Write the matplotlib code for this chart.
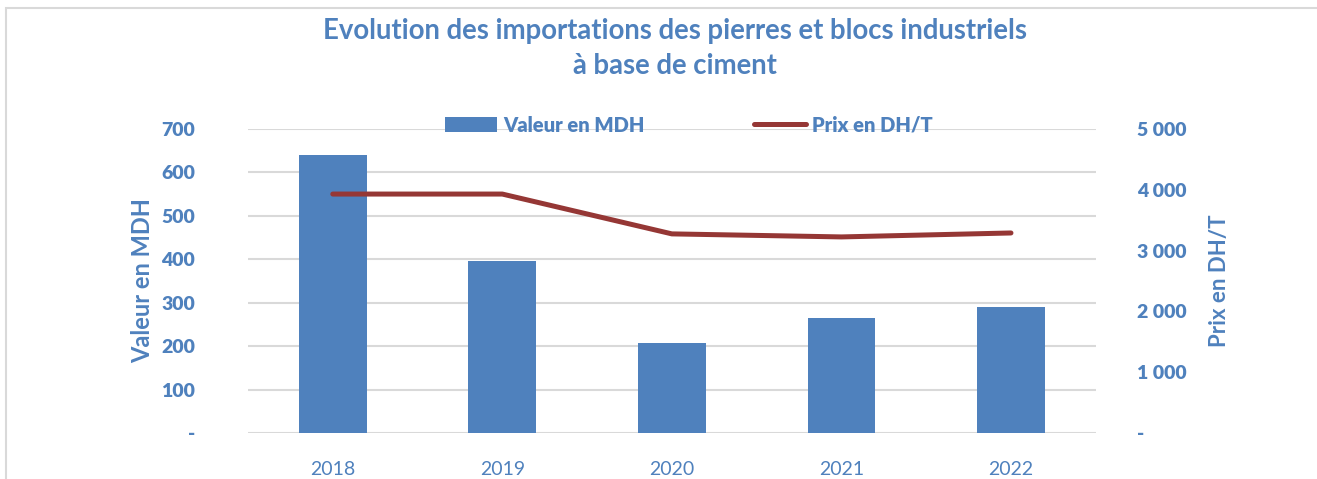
import matplotlib.pyplot as plt
from matplotlib.patches import Rectangle

years = ["2018", "2019", "2020", "2021", "2022"]
valeur_mdh = [640, 396, 207, 265, 290]
prix_dh_t = [3930, 3930, 3275, 3225, 3290]
left_ticks = [0, 100, 200, 300, 400, 500, 600, 700]
right_ticks = [0, 1000, 2000, 3000, 4000, 5000]

BLUE = "#4F81BD"
RED = "#953735"
GRID = "#D9D9D9"

plt.rcParams["font.family"] = ["Lato", "DejaVu Sans"]

fig = plt.figure(figsize=(13.17, 4.79), dpi=100)
ax = fig.add_axes([0.1883, 0.0960, 0.6437, 0.6347])
ax2 = ax.twinx()

x = list(range(len(years)))
bars = ax.bar(x, valeur_mdh, width=0.4, color=BLUE, zorder=3)
line, = ax2.plot(x, prix_dh_t, color=RED, lw=3.6, solid_capstyle="round", zorder=4)

ax.set_xlim(-0.5, len(years) - 0.5)
ax.set_ylim(0, 700)
ax2.set_ylim(0, 5000)

def fmt_left(v):
    return "-" if v == 0 else f"{v}"

def fmt_right(v):
    return "-" if v == 0 else f"{v:,}".replace(",", " ")

ax.set_yticks(left_ticks, [fmt_left(v) for v in left_ticks],
              fontweight="heavy", fontsize=14, color=BLUE)
ax2.set_yticks(right_ticks, [fmt_right(v) for v in right_ticks],
               fontweight="heavy", fontsize=14, color=BLUE)
ax.set_xticks(x, years, fontsize=14, color=BLUE)

ax.grid(axis="y", color=GRID, lw=1.5, zorder=0)
ax.set_axisbelow(True)
for a in (ax, ax2):
    for s in a.spines.values():
        s.set_visible(False)
    a.tick_params(length=0)
ax.tick_params(axis="y", pad=38)
ax2.tick_params(axis="y", pad=30)
ax.tick_params(axis="x", pad=20)

ax.set_ylabel("Valeur en MDH", fontsize=17, color=BLUE, fontweight="bold")
ax2.set_ylabel("Prix en DH/T", fontsize=16, color=BLUE, fontweight="bold")
ax.yaxis.set_label_coords(-0.124, 0.5)
ax2.yaxis.set_label_coords(1.146, 0.5)
ax.yaxis.label.set_va("center")
ax2.yaxis.label.set_va("center")

fig.text(0.5125, 0.935, "Evolution des importations des pierres et blocs industriels",
         ha="center", va="center", fontsize=19.8, color=BLUE, fontweight="bold")
fig.text(0.5125, 0.862, "à base de ciment",
         ha="center", va="center", fontsize=19.8, color=BLUE, fontweight="bold")

leg = fig.legend([bars, line], ["Valeur en MDH", "Prix en DH/T"], ncol=2,
                 loc="center", bbox_to_anchor=(0.523, 0.739), frameon=False,
                 prop={"size": 14.5, "weight": "heavy"}, handlelength=2.6,
                 handletextpad=0.3, columnspacing=5.4)
for t in leg.get_texts():
    t.set_color(BLUE)

fig.patches.append(Rectangle((6 / 1317, -0.1), 1.2, 1 - 8 / 479 + 0.1,
                             transform=fig.transFigure, fill=False,
                             edgecolor=GRID, lw=1.5))

fig.savefig("out.png", dpi=100)
